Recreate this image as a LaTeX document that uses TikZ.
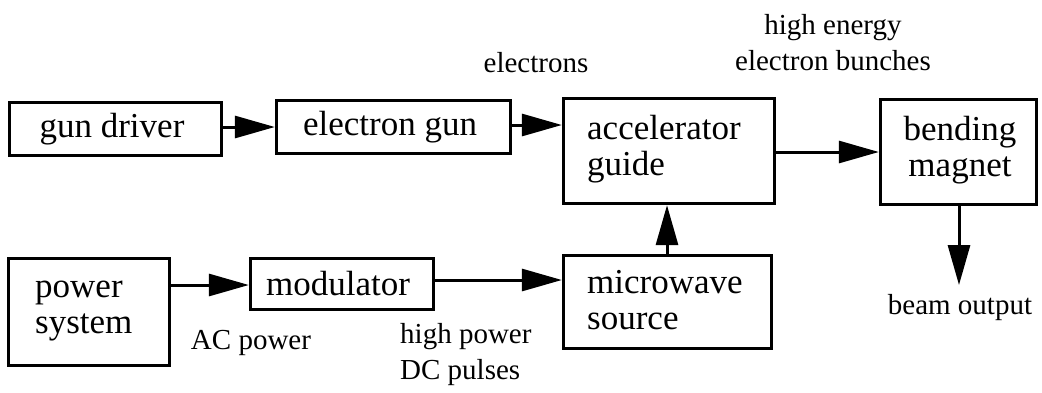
\documentclass[tikz,border=0pt]{standalone}
\usepackage{fontspec}
\newfontfamily\tms{Liberation Serif}
\usetikzlibrary{arrows.meta}
\begin{document}
\begin{tikzpicture}[x=1pt,y=-1pt,
  blk/.style={draw,line width=3.3pt,inner sep=0pt},
  boxtext/.style={font=\tms\fontsize{35}{36}\selectfont,align=left,inner sep=0pt},
  lbl/.style={font=\tms\fontsize{29}{36}\selectfont,align=center,inner sep=0pt},
  conn/.style={line width=3pt,-{Triangle[length=40pt,width=22pt]}}]
\useasboundingbox (0,0) rectangle (1042,392);
% boxes
\node[blk,minimum width=212pt,minimum height=53pt] (gd) at (115.5,129) {};
\node[boxtext] at (112,129) {gun driver};
\node[blk,minimum width=234pt,minimum height=53pt] (eg) at (393.5,127) {};
\node[boxtext] at (390,127) {electron gun};
\node[blk,minimum width=211pt,minimum height=105pt] (ag) at (669,151) {};
\node[boxtext,anchor=west] at (587,149) {accelerator\\guide};
\node[blk,minimum width=156pt,minimum height=105pt] (bm) at (958.5,152) {};
\node[boxtext,align=center] at (960,150) {bending\\magnet};
\node[blk,minimum width=161pt,minimum height=107pt] (ps) at (89,312) {};
\node[boxtext,anchor=west] at (35,311) {power\\system};
\node[blk,minimum width=183pt,minimum height=51pt] (mod) at (342,284) {};
\node[boxtext] at (338,284) {modulator};
\node[blk,minimum width=208pt,minimum height=93pt] (mw) at (667.5,302) {};
\node[boxtext,anchor=west] at (587,300) {microwave\\source};
% labels
\node[lbl] (lel) at (536,63) {electrons};
\node[lbl] (lhe) at (833,43) {high energy\\electron bunches};
\node[lbl] (lac) at (251,343) {AC power};
\node[lbl,align=left,anchor=west] (lhp) at (400,355) {high power\\DC pulses};
\node[lbl] (lbo) at (960,308) {beam output};
\coordinate (bo) at (959,285);
% connectors
\draw[conn] (gd.east |- 0,127) -- (eg.west |- 0,127);
\draw[conn] (eg.east |- 0,125) -- (ag.west |- 0,125);
\draw[conn] (ag.east |- 0,152) -- (bm.west |- 0,152);
\draw[conn] (mw.north -| 667,0) -- (ag.south -| 667,0);
\draw[conn] (bm.south -| bo) -- (bo);
\draw[conn] (ps.east |- 0,285) -- (mod.west |- 0,285);
\draw[conn] (mod.east |- 0,280) -- (mw.west |- 0,280);
\end{tikzpicture}
\end{document}
